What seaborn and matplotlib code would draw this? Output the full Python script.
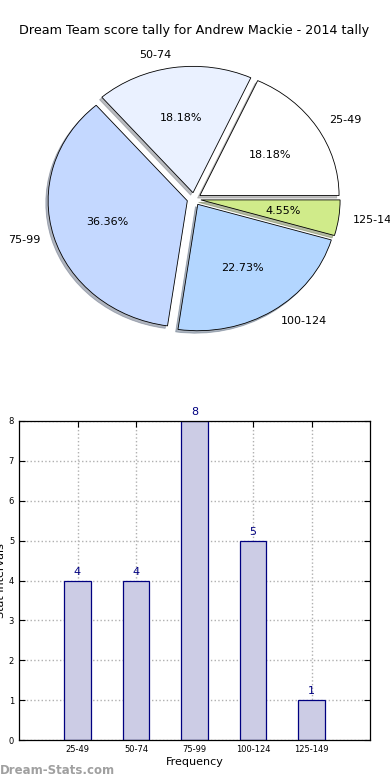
import matplotlib
matplotlib.use("Agg")
import matplotlib.pyplot as plt
import seaborn as sns
import pandas as pd

# Data
categories = ["25-49", "50-74", "75-99", "100-124", "125-149"]
counts = [4, 4, 8, 5, 1]
pie_colors = ["#ffffff", "#eaf1ff", "#c4d8ff", "#b3d6ff", "#d0eb8a"]
title = "Dream Team score tally for Andrew Mackie - 2014 tally"
y_ticks = [0, 1, 2, 3, 4, 5, 6, 7, 8]

plt.rcParams['font.family'] = ['DejaVu Sans']

fig = plt.figure(figsize=(3.9, 7.8), dpi=100)

# Pie chart
ax1 = fig.add_axes([20/390, 1 - 357/780, 348/390, 316/780])
explode = [0.05] * len(counts)
ax1.pie(counts, labels=categories, colors=pie_colors, explode=explode,
        autopct='%1.2f%%', shadow={'ox': -0.012, 'oy': -0.014, 'shade': 0.5},
        startangle=0, pctdistance=0.6, labeldistance=1.1,
        wedgeprops=dict(edgecolor='black', linewidth=0.6),
        textprops=dict(fontsize=8))
ax1.set_aspect('auto')
ax1.set_xlim(-1.25, 1.25)
ax1.set_ylim(-1.25, 1.25)
ax1.set_title(title, fontsize=9.2, pad=5)

# Bar chart
ax2 = fig.add_axes([19/390, 40/780, 351/390, 319/780])
df = pd.DataFrame({"cat": categories, "count": counts})
sns.barplot(data=df, x="cat", y="count", ax=ax2, color="#cccce5",
            edgecolor="#000080", linewidth=0.9, width=0.45, saturation=1)
ax2.set_xlim(-1, 5)
ax2.set_ylim(0, 8)
ax2.set_yticks(y_ticks)
ax2.grid(True, linestyle=':', color='#b0b0b0', linewidth=1)
ax2.set_axisbelow(True)
ax2.tick_params(labelsize=6, direction='in', top=True, right=True, length=4)
ax2.set_xlabel("Frequency", fontsize=8, labelpad=2)
ax2.set_ylabel("Stat Intervals", fontsize=8, labelpad=2)
for i, v in enumerate(counts):
    ax2.text(i, v + 0.1, str(v), ha='center', va='bottom', color='#000080', fontsize=8)
for s in ax2.spines.values():
    s.set_linewidth(0.9)

fig.text(0.0, 10/780, "Dream-Stats.com", fontsize=8.5, color='#a0a0a0',
         fontweight='bold', ha='left', va='center')

fig.savefig("out.png", dpi=100)
